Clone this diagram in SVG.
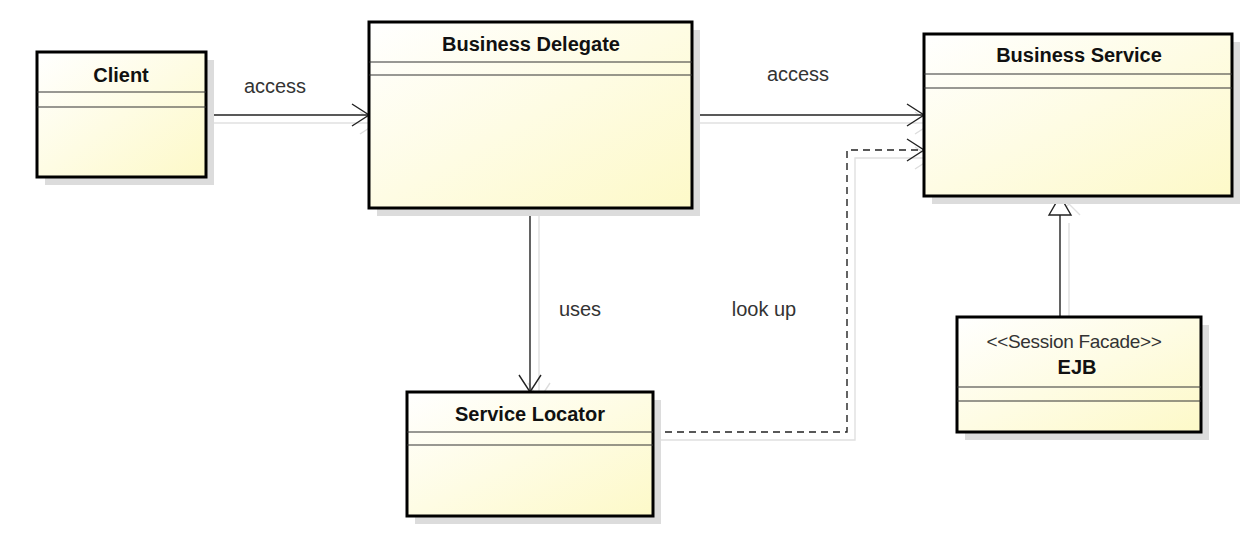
<svg xmlns="http://www.w3.org/2000/svg" width="1252" height="543" viewBox="0 0 1252 543">
<defs>
<linearGradient id="fill" x1="0" y1="0" x2="1" y2="1">
<stop offset="0" stop-color="#ffffff"/>
<stop offset="1" stop-color="#fdf9c8"/>
</linearGradient>
<marker id="open" markerWidth="20" markerHeight="24" refX="18" refY="12" orient="auto" markerUnits="userSpaceOnUse">
<path d="M1,1 L18,12 L1,23" fill="none" stroke="#222" stroke-width="1.4"/>
</marker>
<marker id="openS" markerWidth="20" markerHeight="24" refX="18" refY="12" orient="auto" markerUnits="userSpaceOnUse">
<path d="M1,1 L18,12 L1,23" fill="none" stroke="#ddd" stroke-width="1.4"/>
</marker>
</defs>
<style>
.shadow{fill:#dcdcdc}
.box{fill:url(#fill);stroke:#000;stroke-width:3}
.sep{stroke:#333;stroke-width:1.2}
.title{font-family:"Liberation Sans",Arial,sans-serif;font-size:20px;font-weight:bold;fill:#111;text-anchor:middle}
.stereo{font-family:"Liberation Sans",Arial,sans-serif;font-size:19px;fill:#333;text-anchor:middle;letter-spacing:-0.3px}
.lbl{font-family:"Liberation Sans",Arial,sans-serif;font-size:20px;fill:#333;text-anchor:middle}
.line{fill:none;stroke:#222;stroke-width:1.4}
.sline{fill:none;stroke:#e0e0e0;stroke-width:1.4}
</style>
<rect width="1252" height="543" fill="#fff"/>
<g id="connectors">
<path class="sline" d="M214,123 L377,123" marker-end="url(#openS)"/>
<path class="line" d="M206,115 L369,115" marker-end="url(#open)"/>
<path class="sline" d="M700,123 L932,123" marker-end="url(#openS)"/>
<path class="line" d="M692,115 L924,115" marker-end="url(#open)"/>
<path class="sline" d="M539,216 L539,400" marker-end="url(#openS)"/>
<path class="line" d="M530,208 L530,392" marker-end="url(#open)"/>
<path class="sline" d="M661,440 L855,440 L855,158 L932,158" marker-end="url(#openS)"/>
<path class="line" d="M653,432 L847,432 L847,150 L924,150" stroke-dasharray="7,5"/>
<path class="line" d="M907,139 L924,150 L907,161"/>
<path class="sline" d="M1069,325 L1069,223"/>
<path d="M1058,215 L1069,204 L1080,215" fill="none" stroke="#e0e0e0" stroke-width="1.4"/>
<path class="line" d="M1060,317 L1060,215"/>
<path d="M1049,215 L1060,196 L1071,215 Z" fill="#fff" stroke="#222" stroke-width="1.4"/>
<text class="lbl" x="275" y="93">access</text>
<text class="lbl" x="798" y="81">access</text>
<text class="lbl" x="580" y="316">uses</text>
<text class="lbl" x="764" y="316">look up</text>
</g>
<g id="client">
<rect class="shadow" x="45" y="60" width="169" height="125"/>
<rect class="box" x="37" y="52" width="169" height="125"/>
<line class="sep" x1="37" y1="92" x2="206" y2="92"/>
<line class="sep" x1="37" y1="107" x2="206" y2="107"/>
<text class="title" x="121" y="82">Client</text>
</g>
<g id="business-delegate">
<rect class="shadow" x="377" y="30" width="323" height="186"/>
<rect class="box" x="369" y="22" width="323" height="186"/>
<line class="sep" x1="369" y1="62" x2="692" y2="62"/>
<line class="sep" x1="369" y1="75" x2="692" y2="75"/>
<text class="title" x="531" y="51">Business Delegate</text>
</g>
<g id="business-service">
<rect class="shadow" x="932" y="42" width="308" height="162"/>
<rect class="box" x="924" y="34" width="308" height="162"/>
<line class="sep" x1="924" y1="74" x2="1232" y2="74"/>
<line class="sep" x1="924" y1="88" x2="1232" y2="88"/>
<text class="title" x="1079" y="62">Business Service</text>
</g>
<g id="ejb">
<rect class="shadow" x="965" y="325" width="244" height="115"/>
<rect class="box" x="957" y="317" width="244" height="115"/>
<line class="sep" x1="957" y1="387" x2="1201" y2="387"/>
<line class="sep" x1="957" y1="401" x2="1201" y2="401"/>
<text class="stereo" x="1074" y="348">&lt;&lt;Session Facade&gt;&gt;</text>
<text class="title" x="1077" y="374">EJB</text>
</g>
<g id="service-locator">
<rect class="shadow" x="415" y="400" width="246" height="124"/>
<rect class="box" x="407" y="392" width="246" height="124"/>
<line class="sep" x1="407" y1="432" x2="653" y2="432"/>
<line class="sep" x1="407" y1="445" x2="653" y2="445"/>
<text class="title" x="530" y="421">Service Locator</text>
</g>
</svg>
